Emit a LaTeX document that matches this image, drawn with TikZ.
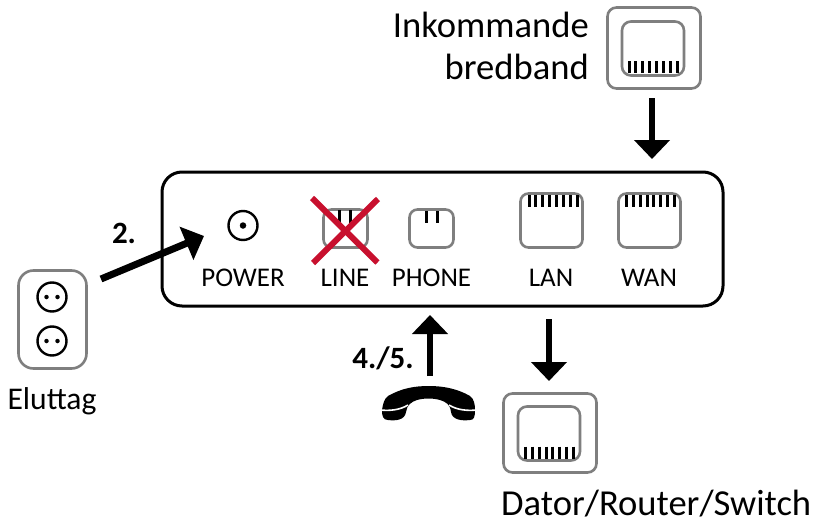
\documentclass[tikz,border=0pt]{standalone}
\usepackage{fontspec}
\setmainfont{Carlito}
\usetikzlibrary{arrows.meta}
\tikzset{
  x=1pt,y=-1pt,
  portbox/.style={draw=portgray,line width=2.6pt,rounded corners=#1,inner sep=0pt,outer sep=0pt,fill=white},
  portbox/.default=8pt,
  jackpin/.style={draw=black,line width=3pt},
  ringsym/.style={circle,draw=black,line width=2.4pt,inner sep=0pt,outer sep=0pt,minimum size=29pt},
  dotsym/.style={circle,fill=black,inner sep=0pt,outer sep=0pt,minimum size=#1},
  bigarrow/.style={line width=6pt,-{Triangle[length=19pt,width=35pt]}},
  small/.style={font=\fontsize{27}{27}\selectfont,inner sep=0pt},
  big/.style={font=\fontsize{36.6}{36.6}\selectfont,inner sep=0pt},
  boldlab/.style={font=\fontsize{31}{31}\selectfont\bfseries,inner sep=0pt}
}
\definecolor{portgray}{HTML}{7F7F7F}
\definecolor{xred}{HTML}{C8102E}
\newcommand{\pinrow}[5]{%
  \foreach \i in {1,...,#1}{
    \pgfmathsetmacro{\px}{#2+(\i-1)*(#3-#2)/(#1-1)}
    \draw[jackpin] (\px,#4) -- (\px,#5);
  }}
\begin{document}
\begin{tikzpicture}
\useasboundingbox (0,0) rectangle (814,522);
% router
\node[draw=black,line width=3pt,rounded corners=20pt,minimum width=561pt,minimum height=134pt,inner sep=0pt,outer sep=0pt] (router) at (442.5,239) {};
% power
\node[ringsym] (power) at (243,225.5) {};
\node[dotsym=6.5pt] (powerdot) at (243,225.5) {};
\node[small] (powerlab) at (243,277.5) {POWER};
% line
\node[portbox,minimum width=44pt,minimum height=38pt] (line) at (345.5,228.5) {};
\pinrow{2}{339}{350}{210}{223}
\node[small] (linelab) at (345,277.5) {LINE};
\draw[xred,line width=6pt] (312,198) -- (377.5,262.5);
\draw[xred,line width=6pt] (378,199) -- (313,263);
% phone
\node[portbox,minimum width=44pt,minimum height=38pt] (phone) at (431.5,228.5) {};
\pinrow{2}{426}{437}{211}{223}
\node[small] (phonelab) at (431.5,277.5) {PHONE};
% lan
\node[portbox,minimum width=62pt,minimum height=54pt] (lan) at (551.5,220.5) {};
\pinrow{8}{529}{577}{195}{207}
\node[small] (lanlab) at (551,277.5) {LAN};
% wan
\node[portbox,minimum width=62pt,minimum height=54pt] (wan) at (649.5,220.5) {};
\pinrow{8}{626.5}{674.5}{195}{207}
\node[small] (wanlab) at (649,277.5) {WAN};
% outlet
\node[portbox=15pt,minimum width=68pt,minimum height=98pt] (outlet) at (52.5,319.5) {};
\node[ringsym] (sock1) at (52,297) {};
\node[ringsym] (sock2) at (52,341) {};
\foreach \s/\yy in {a/297,b/341}{
  \node[dotsym=4.5pt] (dot\s l) at (46.5,\yy) {};
  \node[dotsym=4.5pt] (dot\s r) at (57.5,\yy) {};
}
\node[big,font=\fontsize{31.6}{31.6}\selectfont] (eluttag) at (52,401) {Eluttag};
% top jack
\node[portbox=9pt,minimum width=93pt,minimum height=81pt] (topouter) at (654,48) {};
\node[portbox=9pt,minimum width=62pt,minimum height=54pt] (topinner) at (653,48.5) {};
\pinrow{8}{629}{677}{61}{73}
\node[big,anchor=east] (inkommande) at (589,25) {Inkommande};
\node[big,anchor=east] (bredband) at (589,67) {bredband};
% bottom jack
\node[portbox=9pt,minimum width=93pt,minimum height=79pt] (botouter) at (550,433) {};
\node[portbox=9pt,minimum width=62pt,minimum height=54pt] (botinner) at (549,433.5) {};
\pinrow{8}{525.5}{573.5}{446.5}{458.5}
\node[big,anchor=west] (dator) at (501,503.5) {Dator/Router/Switch};
% handset
\fill[black] (382,410) .. controls (383,404) and (384,399) .. (388,396) .. controls (402,388) and (415,386) .. (429,386)
  .. controls (444,386) and (458,389) .. (470,396) .. controls (474,399) and (475,404) .. (475,410)
  .. controls (475,417) and (474,420) .. (470,420) .. controls (462,421) and (452,420) .. (451,412)
  .. controls (450,404) and (446,402) .. (440,400) .. controls (433,398) and (424,398) .. (417,400)
  .. controls (411,402) and (407,405) .. (406,412) .. controls (405,420) and (396,421) .. (388,420)
  .. controls (383,420) and (382,416) .. (382,410) -- cycle;
\draw[white,line width=1.6pt] (380,410) .. controls (390,411) and (400,410) .. (408,405);
\draw[white,line width=1.6pt] (477,410) .. controls (467,411) and (457,410) .. (449,405);
% arrows
\coordinate (a2s) at (101,279);
\coordinate (a2e) at (204,236);
\draw[bigarrow,line width=7pt] (a2s) -- (a2e);
\coordinate (aps) at (430,376);
\coordinate (ape) at (430,315);
\draw[bigarrow] (aps) -- (ape);
\coordinate (als) at (549,319);
\coordinate (ale) at (549,381);
\draw[bigarrow] (als) -- (ale);
\coordinate (ats) at (652,98);
\coordinate (ate) at (652,159);
\draw[bigarrow] (ats) -- (ate);
\node[boldlab] (two) at (124,233) {2.};
\node[boldlab] (fourfive) at (383,358) {4./5.};
\end{tikzpicture}
\end{document}
